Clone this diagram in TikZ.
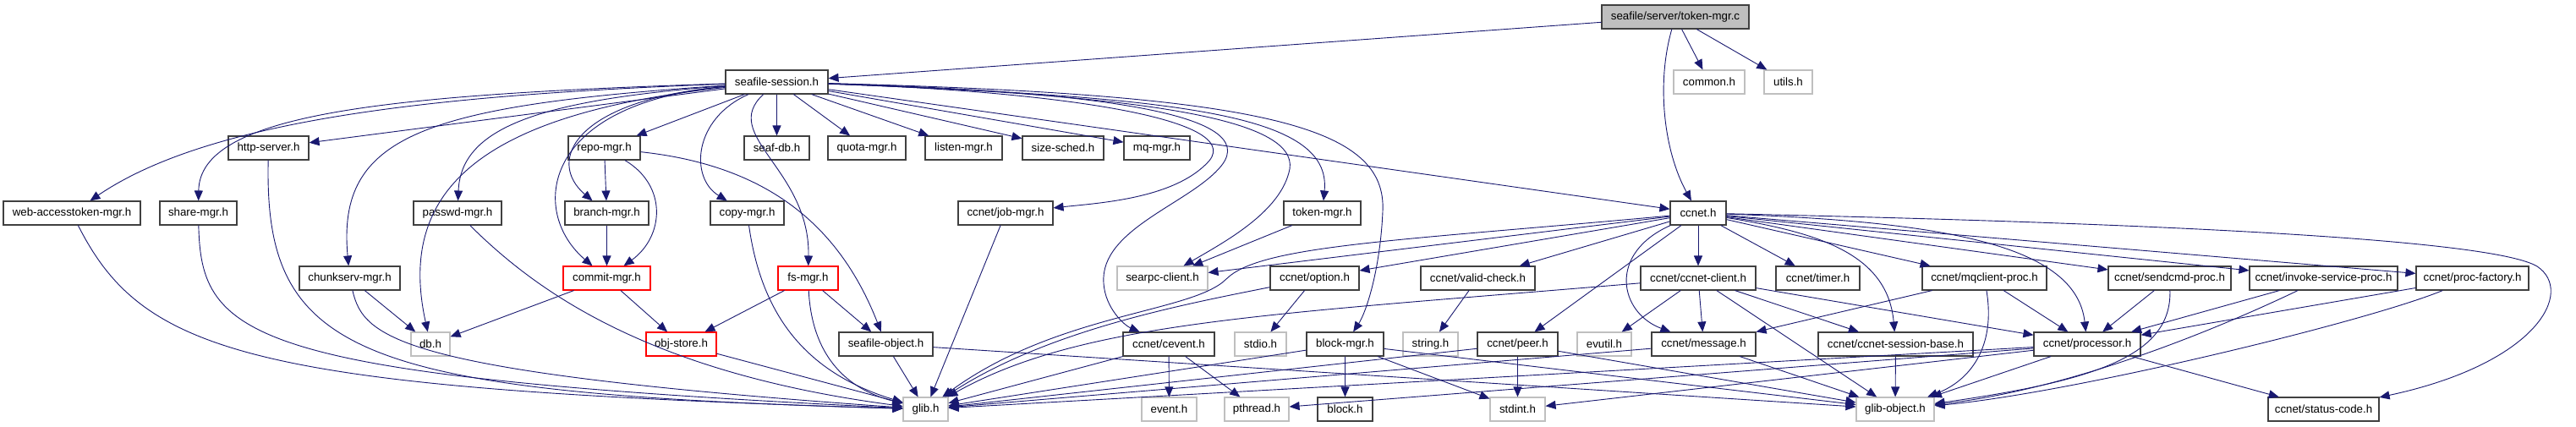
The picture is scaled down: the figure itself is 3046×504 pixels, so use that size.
\documentclass[tikz,border=0pt]{standalone}
\usepackage{fontspec}
\setmainfont{Liberation Sans}
\usetikzlibrary{arrows.meta}
\definecolor{edgeblue}{HTML}{191970}
\definecolor{extgray}{HTML}{BFBFBF}
\definecolor{boxline}{HTML}{404040}
\tikzset{
  nb/.style={draw=boxline, line width=1.1pt, rectangle, minimum height=28pt, inner sep=0pt, font=\fontsize{13.3}{16}\selectfont},
  xbox/.style={nb, draw=extgray},
  rbox/.style={nb, draw=red},
  rootbox/.style={nb, fill=extgray},
  dep/.style={draw=edgeblue, line width=0.9pt, -{Triangle[length=12pt,width=10pt]}}
}
\begin{document}
\begin{tikzpicture}[x=1pt,y=-1pt]
\fill[white] (0,0) rectangle (3046,504);
\useasboundingbox (0,0) rectangle (3046,504);
% Row A
\node[rootbox, minimum width=174] (tmc) at (1981,20) {seafile/server/token-mgr.c};
% Row B
\node[nb, minimum width=121] (ss) at (918.5,97) {seafile-session.h};
\node[xbox, minimum width=84] (common) at (2021,97) {common.h};
\node[xbox, minimum width=57] (utils) at (2114.5,97) {utils.h};
% Row C
\node[nb, minimum width=95] (hs) at (317.5,175) {http-server.h};
\node[nb, minimum width=85] (rm) at (714.5,175) {repo-mgr.h};
\node[nb, minimum width=77] (sdb) at (918.5,175) {seaf-db.h};
\node[nb, minimum width=92] (qm) at (1025,175) {quota-mgr.h};
\node[nb, minimum width=91] (lm) at (1139.5,175) {listen-mgr.h};
\node[nb, minimum width=96] (ssd) at (1257,175) {size-sched.h};
\node[nb, minimum width=78] (mq) at (1368,175) {mq-mgr.h};
% Row D
\node[nb, minimum width=162] (wat) at (85,252) {web-accesstoken-mgr.h};
\node[nb, minimum width=91] (shm) at (234.5,252) {share-mgr.h};
\node[nb, minimum width=104] (pm) at (541,252) {passwd-mgr.h};
\node[nb, minimum width=99] (bm) at (717.5,252) {branch-mgr.h};
\node[nb, minimum width=87] (cpm) at (883.5,252) {copy-mgr.h};
\node[nb, minimum width=112] (jm) at (1189,252) {ccnet/job-mgr.h};
\node[nb, minimum width=91] (tm) at (1563.5,252) {token-mgr.h};
\node[nb, minimum width=66] (cc) at (2008,252) {ccnet.h};
% Row E
\node[nb, minimum width=119] (cm) at (413.5,329) {chunkserv-mgr.h};
\node[rbox, minimum width=103] (com) at (717.5,329) {commit-mgr.h};
\node[rbox, minimum width=71] (fs) at (955.5,329) {fs-mgr.h};
\node[xbox, minimum width=107] (sc) at (1374.5,329) {searpc-client.h};
\node[nb, minimum width=105] (opt) at (1554.5,329) {ccnet/option.h};
\node[nb, minimum width=135] (vc) at (1747.5,329) {ccnet/valid-check.h};
\node[nb, minimum width=136] (ccl) at (2008,329) {ccnet/ccnet-client.h};
\node[nb, minimum width=99] (tmr) at (2149.5,329) {ccnet/timer.h};
\node[nb, minimum width=147] (mqc) at (2346.5,329) {ccnet/mqclient-proc.h};
\node[nb, minimum width=145] (sdc) at (2565.5,329) {ccnet/sendcmd-proc.h};
\node[nb, minimum width=175] (isp) at (2747.5,329) {ccnet/invoke-service-proc.h};
\node[nb, minimum width=133] (pf) at (2923.5,329) {ccnet/proc-factory.h};
% Row F
\node[xbox, minimum width=46] (db) at (509,407) {db.h};
\node[rbox, minimum width=83] (os) at (805.5,407) {obj-store.h};
\node[nb, minimum width=111] (so) at (1047.5,407) {seafile-object.h};
\node[nb, minimum width=108] (ce) at (1382,407) {ccnet/cevent.h};
\node[xbox, minimum width=61] (stdio) at (1490.5,407) {stdio.h};
\node[nb, minimum width=91] (blk) at (1590.5,407) {block-mgr.h};
\node[xbox, minimum width=65] (str) at (1691.5,407) {string.h};
\node[nb, minimum width=95] (pr) at (1794.5,407) {ccnet/peer.h};
\node[xbox, minimum width=64] (ev) at (1897,407) {evutil.h};
\node[nb, minimum width=123] (msg) at (2014.5,407) {ccnet/message.h};
\node[nb, minimum width=183] (csb) at (2241.5,407) {ccnet/ccnet-session-base.h};
\node[nb, minimum width=126] (proc) at (2468,407) {ccnet/processor.h};
% Row G
\node[xbox, minimum width=53] (gl) at (1094.5,484) {glib.h};
\node[xbox, minimum width=65] (evh) at (1382.5,484) {event.h};
\node[xbox, minimum width=76] (pt) at (1486,484) {pthread.h};
\node[nb, minimum width=65] (bh) at (1590.5,484) {block.h};
\node[xbox, minimum width=65] (si) at (1794.5,484) {stdint.h};
\node[xbox, minimum width=92] (gobj) at (2241,484) {glib-object.h};
\node[nb, minimum width=131] (sc2) at (2747.5,484) {ccnet/status-code.h};

% root edges
\draw[dep] (tmc) -- (ss);
\draw[dep] (tmc) -- (common);
\draw[dep] (tmc) -- (utils);
\draw[dep] (tmc) .. controls (1958,100) and (1968,180) .. (cc);

% seafile-session edges
\draw[dep] (ss) .. controls (520,112) and (250,140) .. (wat);
\draw[dep] (ss) .. controls (450,112) and (236,135) .. (shm);
\draw[dep] (ss) -- (hs);
\draw[dep] (ss) .. controls (500,125) and (398,160) .. (cm);
\draw[dep] (ss) .. controls (560,135) and (470,230) .. (db);
\draw[dep] (ss) .. controls (640,118) and (545,150) .. (pm);
\draw[dep] (ss) .. controls (640,122) and (625,250) .. (com);
\draw[dep] (ss) .. controls (680,118) and (645,190) .. (bm);
\draw[dep] (ss) -- (rm);
\draw[dep] (ss) .. controls (820,140) and (815,210) .. (cpm);
\draw[dep] (ss) .. controls (850,160) and (958,200) .. (fs);
\draw[dep] (ss) -- (sdb);
\draw[dep] (ss) -- (qm);
\draw[dep] (ss) -- (lm);
\draw[dep] (ss) -- (ssd);
\draw[dep] (ss) -- (mq);
\draw[dep] (ss) .. controls (1250,108) and (1470,140) .. (1430,190) .. controls (1390,235) and (1300,240) .. (jm);
\draw[dep] (ss) .. controls (1300,108) and (1490,135) .. (1445,195) .. controls (1410,240) and (1300,270) .. (1305,335) .. controls (1307,365) and (1330,385) .. (ce);
\draw[dep] (ss) .. controls (1350,112) and (1535,140) .. (1525,200) .. controls (1515,250) and (1450,285) .. (sc);
\draw[dep] (ss) .. controls (1400,115) and (1575,135) .. (tm);
\draw[dep] (ss) .. controls (1500,112) and (1640,150) .. (1635,250) .. controls (1632,320) and (1615,370) .. (blk);
\draw[dep] (ss) -- (cc);

% seafile internal
\draw[dep] (rm) -- (bm);
\draw[dep] (rm) .. controls (790,220) and (785,280) .. (com);
\draw[dep] (rm) .. controls (900,195) and (990,260) .. (so);
\draw[dep] (bm) -- (com);
\draw[dep] (com) -- (db);
\draw[dep] (com) -- (os);
\draw[dep] (fs) -- (os);
\draw[dep] (fs) -- (so);
\draw[dep] (cm) -- (db);
\draw[dep] (tm) -- (sc);

% to glib.h
\draw[dep] (wat) .. controls (170,420) and (300,460) .. (gl);
\draw[dep] (shm) .. controls (238,400) and (290,445) .. (gl);
\draw[dep] (hs) .. controls (312,420) and (420,465) .. (gl);
\draw[dep] (cm) .. controls (430,400) and (470,440) .. (gl);
\draw[dep] (pm) .. controls (630,340) and (760,440) .. (gl);
\draw[dep] (cpm) .. controls (900,370) and (950,440) .. (gl);
\draw[dep] (fs) .. controls (960,420) and (1000,460) .. (gl);
\draw[dep] (os) -- (gl);
\draw[dep] (so) -- (gl);
\draw[dep] (jm) -- (gl);
\draw[dep] (cc) .. controls (1650,285) and (1490,290) .. (1450,330) .. controls (1410,370) and (1250,370) .. (gl);
\draw[dep] (opt) .. controls (1400,360) and (1240,390) .. (gl);
\draw[dep] (ccl) .. controls (1500,372) and (1280,380) .. (gl);
\draw[dep] (ce) -- (gl);
\draw[dep] (blk) -- (gl);
\draw[dep] (pr) -- (gl);
\draw[dep] (msg) -- (gl);
\draw[dep] (proc) -- (gl);

% ccnet.h edges
\draw[dep] (cc) -- (sc);
\draw[dep] (cc) -- (opt);
\draw[dep] (cc) -- (vc);
\draw[dep] (cc) -- (ccl);
\draw[dep] (cc) -- (pr);
\draw[dep] (cc) .. controls (1900,300) and (1915,370) .. (msg);
\draw[dep] (cc) -- (tmr);
\draw[dep] (cc) -- (mqc);
\draw[dep] (cc) .. controls (2150,275) and (2232,300) .. (csb);
\draw[dep] (cc) .. controls (2300,262) and (2455,290) .. (proc);
\draw[dep] (cc) -- (sdc);
\draw[dep] (cc) -- (isp);
\draw[dep] (cc) -- (pf);
\draw[dep] (cc) .. controls (2600,265) and (2950,285) .. (3000,315) .. controls (3045,345) and (3000,430) .. (sc2);

% lower level
\draw[dep] (opt) -- (stdio);
\draw[dep] (vc) -- (str);
\draw[dep] (ccl) -- (ev);
\draw[dep] (ccl) -- (msg);
\draw[dep] (ccl) -- (csb);
\draw[dep] (ccl) -- (proc);
\draw[dep] (ccl) -- (gobj);
\draw[dep] (mqc) -- (msg);
\draw[dep] (mqc) -- (proc);
\draw[dep] (mqc) .. controls (2360,410) and (2330,450) .. (gobj);
\draw[dep] (sdc) -- (proc);
\draw[dep] (sdc) .. controls (2568,420) and (2480,450) .. (gobj);
\draw[dep] (isp) -- (proc);
\draw[dep] (isp) .. controls (2620,390) and (2450,460) .. (gobj);
\draw[dep] (pf) -- (proc);
\draw[dep] (pf) .. controls (2800,380) and (2450,465) .. (gobj);
\draw[dep] (ce) -- (evh);
\draw[dep] (ce) -- (pt);
\draw[dep] (blk) -- (bh);
\draw[dep] (blk) -- (si);
\draw[dep] (blk) -- (gobj);
\draw[dep] (pr) -- (si);
\draw[dep] (pr) -- (gobj);
\draw[dep] (msg) -- (gobj);
\draw[dep] (csb) -- (gobj);
\draw[dep] (so) -- (gobj);
\draw[dep] (proc) -- (gobj);
\draw[dep] (proc) -- (pt);
\draw[dep] (proc) -- (si);
\draw[dep] (proc) -- (sc2);
\end{tikzpicture}
\end{document}
